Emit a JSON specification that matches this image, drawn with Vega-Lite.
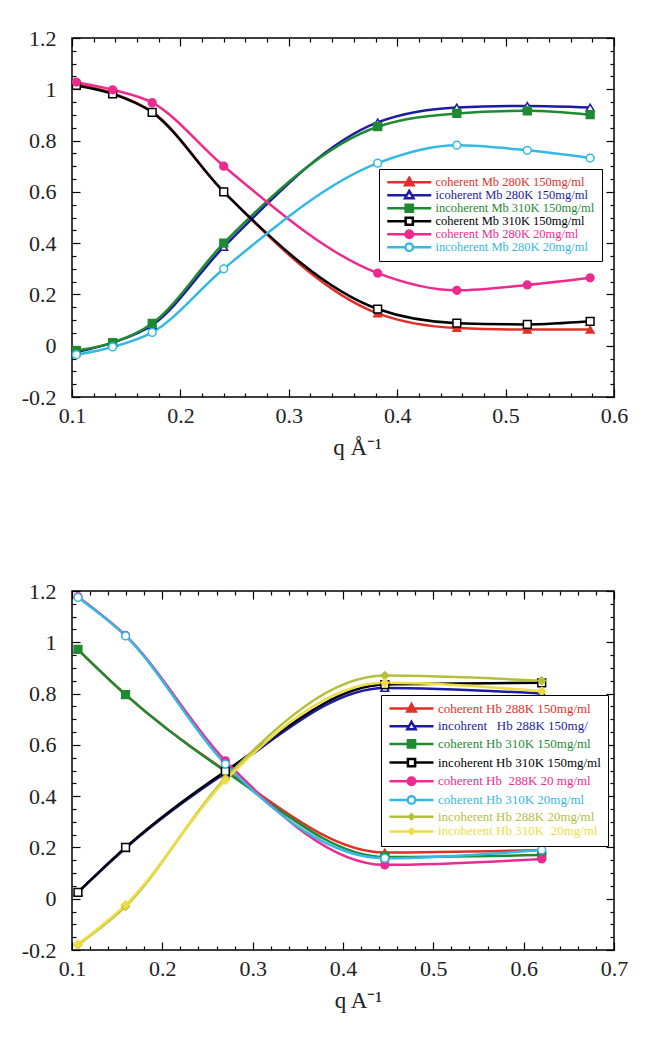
{
"$schema": "https://vega.github.io/schema/vega-lite/v6.json",
"padding": {"left": 20, "top": 26, "right": 5, "bottom": 5},
"background": "white",
"config": {
  "view": {"stroke": "black", "strokeWidth": 1.5},
  "axis": {"domain": false, "grid": false, "tickColor": "black", "tickWidth": 1.2, "labelFont": "Liberation Serif", "labelFontSize": 22, "labelColor": "#222", "titleFont": "Liberation Serif", "titleFontSize": 23, "titleFontWeight": "normal", "titleColor": "#222", "labelOverlap": false, "labelFlush": false}
},
"datasets": {
  "mb": [
    {"series": "coherent Mb 280K 150mg/ml", "q": 0.104, "v": 1.02},
    {"series": "coherent Mb 280K 150mg/ml", "q": 0.1375, "v": 0.985},
    {"series": "coherent Mb 280K 150mg/ml", "q": 0.174, "v": 0.912},
    {"series": "coherent Mb 280K 150mg/ml", "q": 0.24, "v": 0.6},
    {"series": "coherent Mb 280K 150mg/ml", "q": 0.382, "v": 0.126},
    {"series": "coherent Mb 280K 150mg/ml", "q": 0.455, "v": 0.069},
    {"series": "coherent Mb 280K 150mg/ml", "q": 0.52, "v": 0.063},
    {"series": "coherent Mb 280K 150mg/ml", "q": 0.578, "v": 0.063},
    {"series": "icoherent Mb 280K 150mg/ml", "q": 0.104, "v": -0.025},
    {"series": "icoherent Mb 280K 150mg/ml", "q": 0.1375, "v": 0.012},
    {"series": "icoherent Mb 280K 150mg/ml", "q": 0.174, "v": 0.08},
    {"series": "icoherent Mb 280K 150mg/ml", "q": 0.24, "v": 0.385},
    {"series": "icoherent Mb 280K 150mg/ml", "q": 0.382, "v": 0.871},
    {"series": "icoherent Mb 280K 150mg/ml", "q": 0.455, "v": 0.929},
    {"series": "icoherent Mb 280K 150mg/ml", "q": 0.52, "v": 0.935},
    {"series": "icoherent Mb 280K 150mg/ml", "q": 0.578, "v": 0.929},
    {"series": "incoherent Mb 310K 150mg/ml", "q": 0.104, "v": -0.019},
    {"series": "incoherent Mb 310K 150mg/ml", "q": 0.1375, "v": 0.012},
    {"series": "incoherent Mb 310K 150mg/ml", "q": 0.174, "v": 0.087},
    {"series": "incoherent Mb 310K 150mg/ml", "q": 0.24, "v": 0.4},
    {"series": "incoherent Mb 310K 150mg/ml", "q": 0.382, "v": 0.854},
    {"series": "incoherent Mb 310K 150mg/ml", "q": 0.455, "v": 0.906},
    {"series": "incoherent Mb 310K 150mg/ml", "q": 0.52, "v": 0.916},
    {"series": "incoherent Mb 310K 150mg/ml", "q": 0.578, "v": 0.901},
    {"series": "coherent Mb 310K 150mg/ml", "q": 0.104, "v": 1.015},
    {"series": "coherent Mb 310K 150mg/ml", "q": 0.1375, "v": 0.982},
    {"series": "coherent Mb 310K 150mg/ml", "q": 0.174, "v": 0.91},
    {"series": "coherent Mb 310K 150mg/ml", "q": 0.24, "v": 0.6},
    {"series": "coherent Mb 310K 150mg/ml", "q": 0.382, "v": 0.143},
    {"series": "coherent Mb 310K 150mg/ml", "q": 0.455, "v": 0.088},
    {"series": "coherent Mb 310K 150mg/ml", "q": 0.52, "v": 0.083},
    {"series": "coherent Mb 310K 150mg/ml", "q": 0.578, "v": 0.095},
    {"series": "coherent Mb 280K 20mg/ml", "q": 0.104, "v": 1.028},
    {"series": "coherent Mb 280K 20mg/ml", "q": 0.1375, "v": 0.998},
    {"series": "coherent Mb 280K 20mg/ml", "q": 0.174, "v": 0.948},
    {"series": "coherent Mb 280K 20mg/ml", "q": 0.24, "v": 0.7},
    {"series": "coherent Mb 280K 20mg/ml", "q": 0.382, "v": 0.283},
    {"series": "coherent Mb 280K 20mg/ml", "q": 0.455, "v": 0.216},
    {"series": "coherent Mb 280K 20mg/ml", "q": 0.52, "v": 0.237},
    {"series": "coherent Mb 280K 20mg/ml", "q": 0.578, "v": 0.265},
    {"series": "incoherent Mb 280K 20mg/ml", "q": 0.104, "v": -0.035},
    {"series": "incoherent Mb 280K 20mg/ml", "q": 0.1375, "v": -0.005},
    {"series": "incoherent Mb 280K 20mg/ml", "q": 0.174, "v": 0.052},
    {"series": "incoherent Mb 280K 20mg/ml", "q": 0.24, "v": 0.3},
    {"series": "incoherent Mb 280K 20mg/ml", "q": 0.382, "v": 0.712},
    {"series": "incoherent Mb 280K 20mg/ml", "q": 0.455, "v": 0.782},
    {"series": "incoherent Mb 280K 20mg/ml", "q": 0.52, "v": 0.762},
    {"series": "incoherent Mb 280K 20mg/ml", "q": 0.578, "v": 0.732}
  ],
  "hb": [
    {"series": "coherent Hb 288K 150mg/ml", "q": 0.1066, "v": 0.972},
    {"series": "coherent Hb 288K 150mg/ml", "q": 0.1593, "v": 0.796},
    {"series": "coherent Hb 288K 150mg/ml", "q": 0.2698, "v": 0.5},
    {"series": "coherent Hb 288K 150mg/ml", "q": 0.4463, "v": 0.18},
    {"series": "coherent Hb 288K 150mg/ml", "q": 0.62, "v": 0.19},
    {"series": "incohrent \u00a0 Hb 288K 150mg/", "q": 0.1066, "v": 0.025},
    {"series": "incohrent \u00a0 Hb 288K 150mg/", "q": 0.1593, "v": 0.197},
    {"series": "incohrent \u00a0 Hb 288K 150mg/", "q": 0.2698, "v": 0.49},
    {"series": "incohrent \u00a0 Hb 288K 150mg/", "q": 0.4463, "v": 0.822},
    {"series": "incohrent \u00a0 Hb 288K 150mg/", "q": 0.62, "v": 0.8},
    {"series": "coherent Hb 310K 150mg/ml", "q": 0.1066, "v": 0.972},
    {"series": "coherent Hb 310K 150mg/ml", "q": 0.1593, "v": 0.796},
    {"series": "coherent Hb 310K 150mg/ml", "q": 0.2698, "v": 0.497},
    {"series": "coherent Hb 310K 150mg/ml", "q": 0.4463, "v": 0.163},
    {"series": "coherent Hb 310K 150mg/ml", "q": 0.62, "v": 0.17},
    {"series": "incoherent Hb 310K 150mg/ml", "q": 0.1066, "v": 0.025},
    {"series": "incoherent Hb 310K 150mg/ml", "q": 0.1593, "v": 0.2},
    {"series": "incoherent Hb 310K 150mg/ml", "q": 0.2698, "v": 0.497},
    {"series": "incoherent Hb 310K 150mg/ml", "q": 0.4463, "v": 0.835},
    {"series": "incoherent Hb 310K 150mg/ml", "q": 0.62, "v": 0.842},
    {"series": "coherent Hb \u00a0288K 20 mg/ml", "q": 0.1066, "v": 1.178},
    {"series": "coherent Hb \u00a0288K 20 mg/ml", "q": 0.1593, "v": 1.027},
    {"series": "coherent Hb \u00a0288K 20 mg/ml", "q": 0.2698, "v": 0.538},
    {"series": "coherent Hb \u00a0288K 20 mg/ml", "q": 0.4463, "v": 0.132},
    {"series": "coherent Hb \u00a0288K 20 mg/ml", "q": 0.62, "v": 0.155},
    {"series": "coherent Hb 310K 20mg/ml", "q": 0.1066, "v": 1.175},
    {"series": "coherent Hb 310K 20mg/ml", "q": 0.1593, "v": 1.025},
    {"series": "coherent Hb 310K 20mg/ml", "q": 0.2698, "v": 0.525},
    {"series": "coherent Hb 310K 20mg/ml", "q": 0.4463, "v": 0.158},
    {"series": "coherent Hb 310K 20mg/ml", "q": 0.62, "v": 0.19},
    {"series": "incoherent Hb 288K 20mg/ml", "q": 0.1066, "v": -0.18},
    {"series": "incoherent Hb 288K 20mg/ml", "q": 0.1593, "v": -0.03},
    {"series": "incoherent Hb 288K 20mg/ml", "q": 0.2698, "v": 0.47},
    {"series": "incoherent Hb 288K 20mg/ml", "q": 0.4463, "v": 0.87},
    {"series": "incoherent Hb 288K 20mg/ml", "q": 0.62, "v": 0.85},
    {"series": "incoherent Hb 310K \u00a020mg/ml", "q": 0.1066, "v": -0.177},
    {"series": "incoherent Hb 310K \u00a020mg/ml", "q": 0.1593, "v": -0.024},
    {"series": "incoherent Hb 310K \u00a020mg/ml", "q": 0.2698, "v": 0.462},
    {"series": "incoherent Hb 310K \u00a020mg/ml", "q": 0.4463, "v": 0.842},
    {"series": "incoherent Hb 310K \u00a020mg/ml", "q": 0.62, "v": 0.809}
  ]
},
"spacing": 119,
"resolve": {"scale": {"x": "independent", "y": "independent", "color": "independent", "shape": "independent", "fill": "independent", "size": "independent"}, "legend": {"color": "independent", "shape": "independent", "fill": "independent", "size": "independent"}},
"vconcat": [
  {
    "width": 542, "height": 359,
    "data": {"name": "mb"},
    "resolve": {"scale": {"color": "independent", "shape": "independent", "fill": "independent"}, "axis": {"x": "independent", "y": "independent"}},
    "layer": [
      {
        "mark": {"type": "line", "interpolate": "monotone", "strokeWidth": 2.5},
        "encoding": {
          "x": {"field": "q", "type": "quantitative", "scale": {"domain": [0.1, 0.6], "nice": false, "zero": false},
            "axis": {"orient": "bottom", "title": "q  Å⁻¹", "titlePadding": 6, "titleX": 285, "labelPadding": 16, "values": [0.1,0.12,0.14,0.16,0.18,0.2,0.22,0.24,0.26,0.28,0.3,0.32,0.34,0.36,0.38,0.4,0.42,0.44,0.46,0.48,0.5,0.52,0.54,0.56,0.58,0.6],
              "tickSize": {"expr": "abs(datum.value*10 - round(datum.value*10)) < 0.001 ? -8 : -4"},
              "labelExpr": "abs(datum.value*10 - round(datum.value*10)) < 0.001 ? '' + round(datum.value*10)/10 : ''"}},
          "y": {"field": "v", "type": "quantitative", "scale": {"domain": [-0.2, 1.2], "nice": false, "zero": false},
            "axis": {"orient": "left", "title": null, "labelPadding": 24, "values": [-0.2,-0.15,-0.1,-0.05,0,0.05,0.1,0.15,0.2,0.25,0.3,0.35,0.4,0.45,0.5,0.55,0.6,0.65,0.7,0.75,0.8,0.85,0.9,0.95,1,1.05,1.1,1.15,1.2],
              "tickSize": {"expr": "abs(datum.value*5 - round(datum.value*5)) < 0.001 ? -8 : -4"},
              "labelExpr": "abs(datum.value*5 - round(datum.value*5)) < 0.001 ? '' + round(datum.value*10)/10 : ''"}},
          "color": {"field": "series", "type": "nominal", "legend": null,
            "scale": {"domain": ["coherent Mb 280K 150mg/ml","icoherent Mb 280K 150mg/ml","incoherent Mb 310K 150mg/ml","coherent Mb 310K 150mg/ml","coherent Mb 280K 20mg/ml","incoherent Mb 280K 20mg/ml"], "range": ["#e0302a","#1c1ca0","#1e8a32","#000000","#ee2a8e","#35b8e2"]}}
        }
      },
      {
        "mark": {"type": "point", "size": 60, "strokeWidth": 1.5, "opacity": 1},
        "encoding": {
          "x": {"field": "q", "type": "quantitative", "scale": {"domain": [0.1, 0.6], "nice": false, "zero": false},
            "axis": {"orient": "top", "title": null, "labels": false, "values": [0.1,0.12,0.14,0.16,0.18,0.2,0.22,0.24,0.26,0.28,0.3,0.32,0.34,0.36,0.38,0.4,0.42,0.44,0.46,0.48,0.5,0.52,0.54,0.56,0.58,0.6],
              "tickSize": {"expr": "abs(datum.value*10 - round(datum.value*10)) < 0.001 ? -8 : -4"}}},
          "y": {"field": "v", "type": "quantitative", "scale": {"domain": [-0.2, 1.2], "nice": false, "zero": false},
            "axis": {"orient": "right", "title": null, "labels": false, "values": [-0.2,-0.15,-0.1,-0.05,0,0.05,0.1,0.15,0.2,0.25,0.3,0.35,0.4,0.45,0.5,0.55,0.6,0.65,0.7,0.75,0.8,0.85,0.9,0.95,1,1.05,1.1,1.15,1.2],
              "tickSize": {"expr": "abs(datum.value*5 - round(datum.value*5)) < 0.001 ? -8 : -4"}}},
          "color": {"field": "series", "type": "nominal", "legend": null,
            "scale": {"domain": ["coherent Mb 280K 150mg/ml","icoherent Mb 280K 150mg/ml","incoherent Mb 310K 150mg/ml","coherent Mb 310K 150mg/ml","coherent Mb 280K 20mg/ml","incoherent Mb 280K 20mg/ml"], "range": ["#e0302a","#1c1ca0","#1e8a32","#000000","#ee2a8e","#35b8e2"]}},
          "fill": {"field": "series", "type": "nominal", "legend": null,
            "scale": {"domain": ["coherent Mb 280K 150mg/ml","icoherent Mb 280K 150mg/ml","incoherent Mb 310K 150mg/ml","coherent Mb 310K 150mg/ml","coherent Mb 280K 20mg/ml","incoherent Mb 280K 20mg/ml"], "range": ["#e0302a","#ffffff","#1e8a32","#ffffff","#ee2a8e","#ffffff"]}},
          "shape": {"field": "series", "type": "nominal", "legend": null,
            "scale": {"domain": ["coherent Mb 280K 150mg/ml","icoherent Mb 280K 150mg/ml","incoherent Mb 310K 150mg/ml","coherent Mb 310K 150mg/ml","coherent Mb 280K 20mg/ml","incoherent Mb 280K 20mg/ml"], "range": ["triangle-up","triangle-up","square","square","circle","circle"]}}
        }
      },
      {
        "transform": [{"filter": "false"}],
        "mark": {"type": "point", "strokeWidth": 2.5, "opacity": 1},
        "encoding": {
          "x": {"field": "q", "type": "quantitative", "axis": null, "scale": {"domain": [0.1, 0.6], "nice": false, "zero": false}},
          "y": {"field": "v", "type": "quantitative", "axis": null, "scale": {"domain": [-0.2, 1.2], "nice": false, "zero": false}},
          "color": {"field": "series", "type": "nominal",
            "scale": {"domain": ["coherent Mb 280K 150mg/ml","icoherent Mb 280K 150mg/ml","incoherent Mb 310K 150mg/ml","coherent Mb 310K 150mg/ml","coherent Mb 280K 20mg/ml","incoherent Mb 280K 20mg/ml"], "range": ["#e0302a","#1c1ca0","#1e8a32","#000000","#ee2a8e","#35b8e2"]},
            "legend": {"orient": "none", "legendX": 307, "legendY": 131, "title": null, "strokeColor": "black", "fillColor": "white", "padding": 7, "labelFont": "Liberation Serif", "labelFontSize": 12.5, "labelLimit": 0, "symbolSize": 64, "symbolStrokeWidth": 2.5, "symbolOffset": 17, "labelOffset": 20, "clipHeight": 12.5, "rowPadding": 0, "symbolOpacity": 1,
              "labelColor": {"expr": "['#e0302a','#1c1ca0','#1e8a32','#000000','#ee2a8e','#35b8e2'][datum.index]"}}},
          "fill": {"field": "series", "type": "nominal",
            "scale": {"domain": ["coherent Mb 280K 150mg/ml","icoherent Mb 280K 150mg/ml","incoherent Mb 310K 150mg/ml","coherent Mb 310K 150mg/ml","coherent Mb 280K 20mg/ml","incoherent Mb 280K 20mg/ml"], "range": ["#e0302a","#ffffff","#1e8a32","#ffffff","#ee2a8e","#ffffff"]}},
          "shape": {"field": "series", "type": "nominal",
            "scale": {"domain": ["coherent Mb 280K 150mg/ml","icoherent Mb 280K 150mg/ml","incoherent Mb 310K 150mg/ml","coherent Mb 310K 150mg/ml","coherent Mb 280K 20mg/ml","incoherent Mb 280K 20mg/ml"], "range": [
              "M-5.5,0H-0.65M0.65,0H5.5M0,-1.1L1.05,0.75H-1.05Z",
              "M-5.5,0H-0.65M0.65,0H5.5M0,-1.1L1.05,0.75H-1.05Z",
              "M-5.5,0H-0.9M0.9,0H5.5M-0.9,-0.9H0.9V0.9H-0.9Z",
              "M-5.5,0H-0.9M0.9,0H5.5M-0.9,-0.9H0.9V0.9H-0.9Z",
              "M-5.5,0H-0.95M0.95,0H5.5M-0.95,0A0.95,0.95 0 1,0 0.95,0A0.95,0.95 0 1,0 -0.95,0Z",
              "M-5.5,0H-0.95M0.95,0H5.5M-0.95,0A0.95,0.95 0 1,0 0.95,0A0.95,0.95 0 1,0 -0.95,0Z"]}}
        }
      }
    ]
  },
  {
    "width": 542, "height": 359,
    "data": {"name": "hb"},
    "resolve": {"scale": {"color": "independent", "shape": "independent", "fill": "independent", "size": "independent"}, "axis": {"x": "independent", "y": "independent"}},
    "layer": [
      {
        "mark": {"type": "line", "interpolate": "monotone", "strokeWidth": 2.5},
        "encoding": {
          "x": {"field": "q", "type": "quantitative", "scale": {"domain": [0.1, 0.7], "nice": false, "zero": false},
            "axis": {"orient": "bottom", "title": "q A⁻¹", "titlePadding": 6, "titleX": 286, "labelPadding": 16, "values": [0.1,0.12,0.14,0.16,0.18,0.2,0.22,0.24,0.26,0.28,0.3,0.32,0.34,0.36,0.38,0.4,0.42,0.44,0.46,0.48,0.5,0.52,0.54,0.56,0.58,0.6,0.62,0.64,0.66,0.68,0.7],
              "tickSize": {"expr": "abs(datum.value*10 - round(datum.value*10)) < 0.001 ? -8 : -4"},
              "labelExpr": "abs(datum.value*10 - round(datum.value*10)) < 0.001 ? '' + round(datum.value*10)/10 : ''"}},
          "y": {"field": "v", "type": "quantitative", "scale": {"domain": [-0.2, 1.2], "nice": false, "zero": false},
            "axis": {"orient": "left", "title": null, "labelPadding": 24, "values": [-0.2,-0.15,-0.1,-0.05,0,0.05,0.1,0.15,0.2,0.25,0.3,0.35,0.4,0.45,0.5,0.55,0.6,0.65,0.7,0.75,0.8,0.85,0.9,0.95,1,1.05,1.1,1.15,1.2],
              "tickSize": {"expr": "abs(datum.value*5 - round(datum.value*5)) < 0.001 ? -8 : -4"},
              "labelExpr": "abs(datum.value*5 - round(datum.value*5)) < 0.001 ? '' + round(datum.value*10)/10 : ''"}},
          "color": {"field": "series", "type": "nominal", "legend": null,
            "scale": {"domain": ["coherent Hb 288K 150mg/ml","incohrent \u00a0 Hb 288K 150mg/","coherent Hb 310K 150mg/ml","incoherent Hb 310K 150mg/ml","coherent Hb \u00a0288K 20 mg/ml","coherent Hb 310K 20mg/ml","incoherent Hb 288K 20mg/ml","incoherent Hb 310K \u00a020mg/ml"], "range": ["#e0302a","#1c1ca0","#1e8a32","#000000","#ec2a92","#35b8e2","#b4c03c","#eedd40"]}}
        }
      },
      {
        "mark": {"type": "point", "strokeWidth": 1.5, "opacity": 1},
        "encoding": {
          "x": {"field": "q", "type": "quantitative", "scale": {"domain": [0.1, 0.7], "nice": false, "zero": false},
            "axis": {"orient": "top", "title": null, "labels": false, "values": [0.1,0.12,0.14,0.16,0.18,0.2,0.22,0.24,0.26,0.28,0.3,0.32,0.34,0.36,0.38,0.4,0.42,0.44,0.46,0.48,0.5,0.52,0.54,0.56,0.58,0.6,0.62,0.64,0.66,0.68,0.7],
              "tickSize": {"expr": "abs(datum.value*10 - round(datum.value*10)) < 0.001 ? -8 : -4"}}},
          "y": {"field": "v", "type": "quantitative", "scale": {"domain": [-0.2, 1.2], "nice": false, "zero": false},
            "axis": {"orient": "right", "title": null, "labels": false, "values": [-0.2,-0.15,-0.1,-0.05,0,0.05,0.1,0.15,0.2,0.25,0.3,0.35,0.4,0.45,0.5,0.55,0.6,0.65,0.7,0.75,0.8,0.85,0.9,0.95,1,1.05,1.1,1.15,1.2],
              "tickSize": {"expr": "abs(datum.value*5 - round(datum.value*5)) < 0.001 ? -8 : -4"}}},
          "color": {"field": "series", "type": "nominal", "legend": null,
            "scale": {"domain": ["coherent Hb 288K 150mg/ml","incohrent \u00a0 Hb 288K 150mg/","coherent Hb 310K 150mg/ml","incoherent Hb 310K 150mg/ml","coherent Hb \u00a0288K 20 mg/ml","coherent Hb 310K 20mg/ml","incoherent Hb 288K 20mg/ml","incoherent Hb 310K \u00a020mg/ml"], "range": ["#e0302a","#1c1ca0","#1e8a32","#000000","#ec2a92","#35b8e2","#b4c03c","#eedd40"]}},
          "fill": {"field": "series", "type": "nominal", "legend": null,
            "scale": {"domain": ["coherent Hb 288K 150mg/ml","incohrent \u00a0 Hb 288K 150mg/","coherent Hb 310K 150mg/ml","incoherent Hb 310K 150mg/ml","coherent Hb \u00a0288K 20 mg/ml","coherent Hb 310K 20mg/ml","incoherent Hb 288K 20mg/ml","incoherent Hb 310K \u00a020mg/ml"], "range": ["#e0302a","#ffffff","#1e8a32","#ffffff","#ec2a92","#ffffff","#b4c03c","#eedd40"]}},
          "shape": {"field": "series", "type": "nominal", "legend": null,
            "scale": {"domain": ["coherent Hb 288K 150mg/ml","incohrent \u00a0 Hb 288K 150mg/","coherent Hb 310K 150mg/ml","incoherent Hb 310K 150mg/ml","coherent Hb \u00a0288K 20 mg/ml","coherent Hb 310K 20mg/ml","incoherent Hb 288K 20mg/ml","incoherent Hb 310K \u00a020mg/ml"], "range": ["triangle-up","triangle-up","square","square","circle","circle","diamond","diamond"]}},
          "size": {"field": "series", "type": "nominal", "legend": null,
            "scale": {"domain": ["coherent Hb 288K 150mg/ml","incohrent \u00a0 Hb 288K 150mg/","coherent Hb 310K 150mg/ml","incoherent Hb 310K 150mg/ml","coherent Hb \u00a0288K 20 mg/ml","coherent Hb 310K 20mg/ml","incoherent Hb 288K 20mg/ml","incoherent Hb 310K \u00a020mg/ml"], "range": [60,60,60,60,60,60,30,30]}}
        }
      },
      {
        "transform": [{"filter": "false"}],
        "mark": {"type": "point", "strokeWidth": 2.5, "opacity": 1},
        "encoding": {
          "x": {"field": "q", "type": "quantitative", "axis": null, "scale": {"domain": [0.1, 0.7], "nice": false, "zero": false}},
          "y": {"field": "v", "type": "quantitative", "axis": null, "scale": {"domain": [-0.2, 1.2], "nice": false, "zero": false}},
          "color": {"field": "series", "type": "nominal",
            "scale": {"domain": ["coherent Hb 288K 150mg/ml","incohrent \u00a0 Hb 288K 150mg/","coherent Hb 310K 150mg/ml","incoherent Hb 310K 150mg/ml","coherent Hb \u00a0288K 20 mg/ml","coherent Hb 310K 20mg/ml","incoherent Hb 288K 20mg/ml","incoherent Hb 310K \u00a020mg/ml"], "range": ["#e0302a","#1c1ca0","#1e8a32","#000000","#ec2a92","#35b8e2","#b4c03c","#eedd40"]},
            "legend": {"orient": "none", "legendX": 309, "legendY": 104, "title": null, "strokeColor": "black", "fillColor": "white", "padding": 7, "labelFont": "Liberation Serif", "labelFontSize": 13, "labelLimit": 0, "symbolSize": 64, "symbolStrokeWidth": 2.5, "symbolOffset": 17, "labelOffset": 20, "rowPadding": -0.3, "symbolOpacity": 1,
              "labelColor": {"expr": "['#e0302a','#1c1ca0','#1e8a32','#000000','#ec2a92','#35b8e2','#b4c03c','#eedd40'][datum.index]"}}},
          "fill": {"field": "series", "type": "nominal",
            "scale": {"domain": ["coherent Hb 288K 150mg/ml","incohrent \u00a0 Hb 288K 150mg/","coherent Hb 310K 150mg/ml","incoherent Hb 310K 150mg/ml","coherent Hb \u00a0288K 20 mg/ml","coherent Hb 310K 20mg/ml","incoherent Hb 288K 20mg/ml","incoherent Hb 310K \u00a020mg/ml"], "range": ["#e0302a","#ffffff","#1e8a32","#ffffff","#ec2a92","#ffffff","#b4c03c","#eedd40"]}},
          "shape": {"field": "series", "type": "nominal",
            "scale": {"domain": ["coherent Hb 288K 150mg/ml","incohrent \u00a0 Hb 288K 150mg/","coherent Hb 310K 150mg/ml","incoherent Hb 310K 150mg/ml","coherent Hb \u00a0288K 20 mg/ml","coherent Hb 310K 20mg/ml","incoherent Hb 288K 20mg/ml","incoherent Hb 310K \u00a020mg/ml"], "range": [
              "M-5.5,0H-0.65M0.65,0H5.5M0,-1.1L1.05,0.75H-1.05Z",
              "M-5.5,0H-0.65M0.65,0H5.5M0,-1.1L1.05,0.75H-1.05Z",
              "M-5.5,0H-0.9M0.9,0H5.5M-0.9,-0.9H0.9V0.9H-0.9Z",
              "M-5.5,0H-0.9M0.9,0H5.5M-0.9,-0.9H0.9V0.9H-0.9Z",
              "M-5.5,0H-0.95M0.95,0H5.5M-0.95,0A0.95,0.95 0 1,0 0.95,0A0.95,0.95 0 1,0 -0.95,0Z",
              "M-5.5,0H-0.95M0.95,0H5.5M-0.95,0A0.95,0.95 0 1,0 0.95,0A0.95,0.95 0 1,0 -0.95,0Z",
              "M-5.5,0H-0.6M0.6,0H5.5M0,-0.6L0.6,0L0,0.6L-0.6,0Z",
              "M-5.5,0H-0.6M0.6,0H5.5M0,-0.6L0.6,0L0,0.6L-0.6,0Z"]}}
        }
      }
    ]
  }
]
}
